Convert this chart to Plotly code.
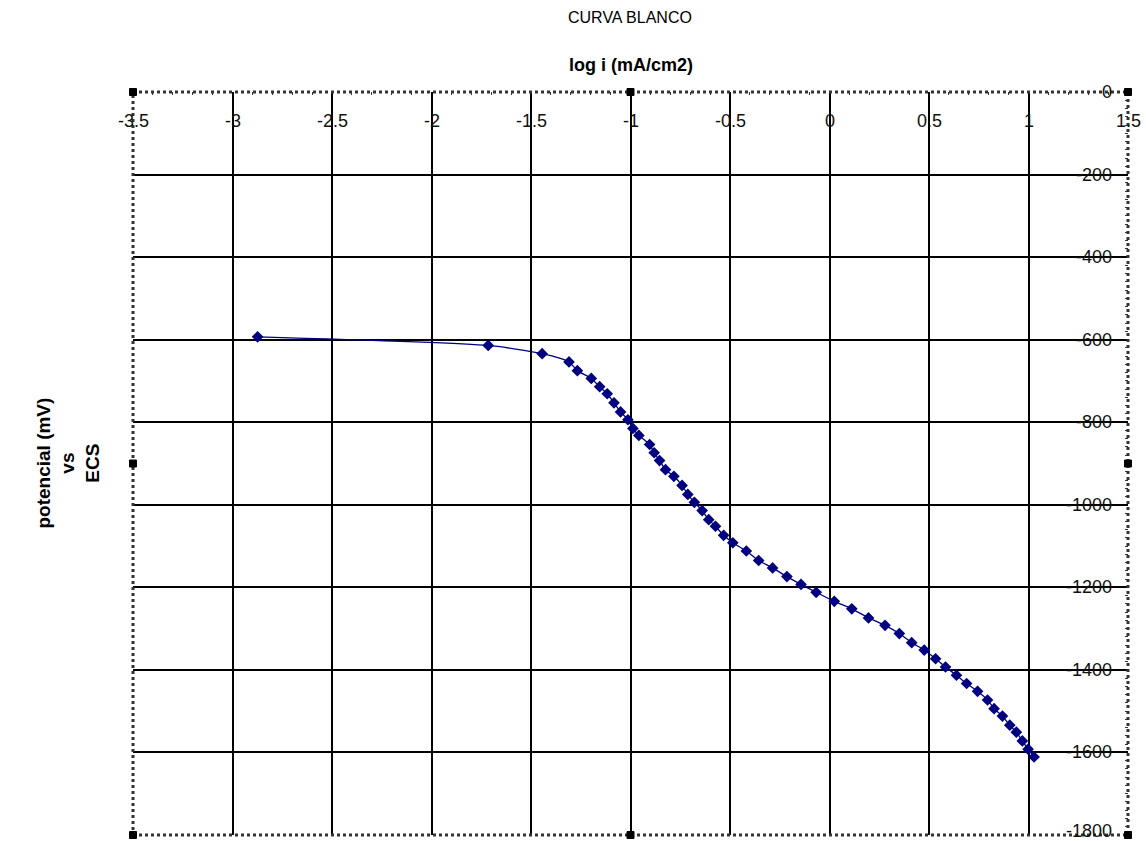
import plotly.graph_objects as go

# Polarisation curve (blank): log current density vs potential
log_i = [-2.874, -1.715, -1.444, -1.309, -1.267, -1.197, -1.155, -1.117, -1.083,
         -1.050, -1.013, -0.988, -0.958, -0.904, -0.881, -0.854, -0.824, -0.782,
         -0.741, -0.712, -0.679, -0.640, -0.607, -0.573, -0.532, -0.486, -0.418,
         -0.356, -0.286, -0.214, -0.143, -0.067, 0.024, 0.112, 0.196, 0.279,
         0.351, 0.413, 0.476, 0.533, 0.583, 0.638, 0.689, 0.744, 0.794, 0.827,
         0.869, 0.906, 0.939, 0.969, 0.998, 1.028]
potencial_mv = [-593, -614, -634, -654, -675, -694, -714, -731, -753,
                -775, -794, -815, -832, -854, -874, -893, -915, -931,
                -953, -975, -994, -1014, -1036, -1052, -1074, -1092, -1112,
                -1135, -1153, -1174, -1193, -1212, -1234, -1252, -1274, -1292,
                -1312, -1334, -1352, -1373, -1393, -1413, -1433, -1452, -1473,
                -1494, -1512, -1534, -1551, -1572, -1592, -1611]

x_tick_vals = [-3.5, -3, -2.5, -2, -1.5, -1, -0.5, 0, 0.5, 1, 1.5]
x_tick_text = ["-3.5", "-3", "-2.5", "-2", "-1.5", "-1", "-0.5", "0", "0.5", "1", "1.5"]
y_tick_vals = [0, -200, -400, -600, -800, -1000, -1200, -1400, -1600, -1800]
y_tick_text = ["0", "-200", "-400", "-600", "-800", "-1000", "-1200", "-1400", "-1600", "-1800"]

NAVY = "#000080"
FONT = "Liberation Sans, Arial, sans-serif"
TICK_SIZE = 18

fig = go.Figure()
fig.add_trace(go.Scatter(
    x=log_i, y=potencial_mv, mode="lines+markers",
    line=dict(color=NAVY, width=1.3, shape="spline", smoothing=0.6),
    marker=dict(symbol="diamond", size=9, color=NAVY),
    showlegend=False, hoverinfo="x+y",
))

fig.update_layout(
    width=1146, height=841,
    margin=dict(l=133, r=18, t=92, b=6),
    paper_bgcolor="white", plot_bgcolor="white",
    font=dict(family=FONT, color="black", size=15),
    xaxis=dict(
        range=[-3.5, 1.5], side="top", tickvals=x_tick_vals, showticklabels=False,
        ticks="inside", ticklen=4, tickcolor="black",
        showgrid=True, gridcolor="black", gridwidth=1.6,
        zeroline=False, showline=False,
        minor=dict(dtick=0.1, ticks="inside", ticklen=3, tickcolor="#333", showgrid=False),
    ),
    yaxis=dict(
        range=[-1800, 0], side="right", tickvals=y_tick_vals, showticklabels=False,
        ticks="inside", ticklen=4, tickcolor="black",
        showgrid=True, gridcolor="black", gridwidth=1.6,
        zeroline=False, showline=False,
        minor=dict(dtick=20, ticks="inside", ticklen=3, tickcolor="#333", showgrid=False),
    ),
)

# Tick labels drawn inside the plot area, centred on their gridlines
for v, t in zip(x_tick_vals, x_tick_text):
    fig.add_annotation(text=t, xref="x", yref="paper", x=v, y=0.961,
                       showarrow=False, xanchor="center", yanchor="middle",
                       font=dict(size=TICK_SIZE, family=FONT, color="#111"))
for v, t in zip(y_tick_vals, y_tick_text):
    # keep the bottom label inside the page edge
    shift = 4 if v == y_tick_vals[-1] else 0
    fig.add_annotation(text=t, xref="paper", yref="y", x=0.986, y=v, yshift=shift,
                       showarrow=False, xanchor="right", yanchor="middle",
                       font=dict(size=TICK_SIZE, family=FONT, color="#111"))

# Titles
fig.add_annotation(text="CURVA BLANCO", xref="paper", yref="paper",
                   x=0.4995, y=1.0996, showarrow=False,
                   font=dict(size=16, family=FONT), xanchor="center", yanchor="middle")
fig.add_annotation(text="<b>log i (mA/cm2)</b>", xref="paper", yref="paper",
                   x=0.5, y=1.0363, showarrow=False,
                   font=dict(size=18, family=FONT), xanchor="center", yanchor="middle")
fig.add_annotation(text="<b>potencial (mV)<br>vs<br>ECS</b>", xref="paper", yref="paper",
                   x=-0.0663, y=0.5, showarrow=False, textangle=-90,
                   font=dict(size=19, family=FONT), align="center",
                   xanchor="center", yanchor="middle")

# Dotted frame around the plot area
fig.add_shape(type="rect", xref="paper", yref="paper", x0=0, y0=0, x1=1, y1=1,
              line=dict(color="#333333", width=3, dash="dot"), layer="above")

# Selection handles on the frame
for hx, hy in [(0, 0), (0.5, 0), (1, 0), (0, 0.5), (1, 0.5), (0, 1), (0.5, 1), (1, 1)]:
    fig.add_shape(type="rect", xref="paper", yref="paper",
                  xsizemode="pixel", ysizemode="pixel", xanchor=hx, yanchor=hy,
                  x0=-3.5, x1=3.5, y0=-3.5, y1=3.5,
                  line=dict(color="black", width=1), fillcolor="black", layer="above")

fig.write_html("out.html")
